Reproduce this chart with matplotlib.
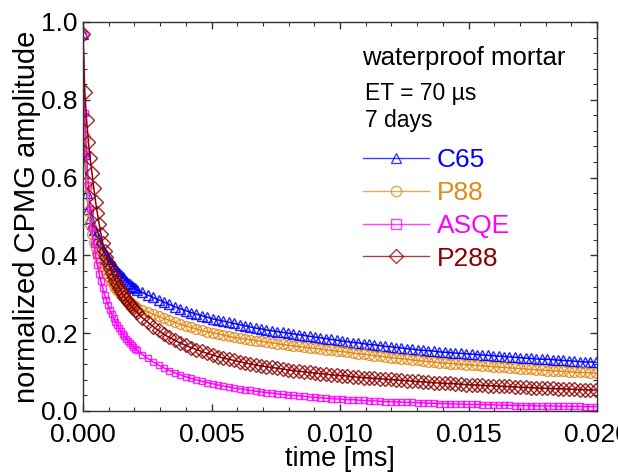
import numpy as np
import matplotlib
matplotlib.use("Agg")
from matplotlib import pyplot as plt
from matplotlib.lines import Line2D
from matplotlib.ticker import MultipleLocator, FormatStrFormatter

plt.rcParams['font.family'] = ['Liberation Sans', 'DejaVu Sans']

# echo train: every echo for the first 30, then every 3rd echo
echo_spacing = 0.00007
echo_idx = list(range(30)) + list(range(30, 286, 3))

# C65
c65_early = [0.970, 0.660, 0.560, 0.520, 0.497, 0.480, 0.466, 0.454, 0.443, 0.433,
             0.424, 0.415, 0.407, 0.399, 0.392, 0.385, 0.378, 0.372, 0.366, 0.360,
             0.354, 0.349, 0.344, 0.339, 0.334, 0.330, 0.326, 0.322, 0.318, 0.315]
c65_tail = [0.312, 0.305, 0.298, 0.292, 0.286, 0.280, 0.274, 0.268, 0.263, 0.258,
            0.253, 0.249, 0.245, 0.241, 0.237, 0.234, 0.231, 0.228, 0.225, 0.222,
            0.219, 0.216, 0.213, 0.211, 0.208, 0.206, 0.204, 0.202, 0.200, 0.198,
            0.196, 0.194, 0.192, 0.190, 0.188, 0.186, 0.184, 0.182, 0.180, 0.178,
            0.176, 0.175, 0.173, 0.171, 0.170, 0.168, 0.166, 0.165, 0.163, 0.162,
            0.160, 0.159, 0.157, 0.156, 0.155, 0.154, 0.152, 0.151, 0.150, 0.149,
            0.148, 0.147, 0.146, 0.145, 0.144, 0.143, 0.142, 0.141, 0.140, 0.139,
            0.138, 0.137, 0.136, 0.135, 0.134, 0.133, 0.133, 0.132, 0.131, 0.130,
            0.129, 0.128, 0.127, 0.126, 0.126, 0.125]

# P88
p88_early = [0.970, 0.705, 0.577, 0.515, 0.480, 0.455, 0.435, 0.419, 0.405, 0.393,
             0.382, 0.372, 0.363, 0.354, 0.346, 0.338, 0.331, 0.324, 0.317, 0.311,
             0.305, 0.300, 0.296, 0.292, 0.288, 0.284, 0.280, 0.276, 0.272, 0.269]
p88_tail = [0.266, 0.260, 0.255, 0.249, 0.243, 0.238, 0.233, 0.228, 0.223, 0.219,
            0.215, 0.211, 0.207, 0.204, 0.201, 0.198, 0.195, 0.192, 0.189, 0.187,
            0.185, 0.183, 0.181, 0.179, 0.177, 0.175, 0.173, 0.171, 0.169, 0.167,
            0.166, 0.164, 0.162, 0.161, 0.159, 0.157, 0.156, 0.154, 0.153, 0.151,
            0.149, 0.147, 0.146, 0.144, 0.142, 0.141, 0.139, 0.137, 0.136, 0.134,
            0.133, 0.131, 0.130, 0.128, 0.127, 0.126, 0.124, 0.123, 0.122, 0.121,
            0.120, 0.119, 0.118, 0.117, 0.116, 0.115, 0.114, 0.113, 0.112, 0.111,
            0.110, 0.109, 0.108, 0.107, 0.106, 0.105, 0.104, 0.103, 0.103, 0.102,
            0.101, 0.100, 0.099, 0.099, 0.098, 0.097]

# ASQE
asqe_early = [0.970, 0.765, 0.660, 0.580, 0.520, 0.470, 0.430, 0.400, 0.375, 0.353,
              0.333, 0.315, 0.299, 0.285, 0.272, 0.260, 0.249, 0.239, 0.230, 0.221,
              0.213, 0.206, 0.199, 0.192, 0.186, 0.180, 0.175, 0.170, 0.165, 0.160]
asqe_tail = [0.156, 0.145, 0.135, 0.126, 0.118, 0.111, 0.104, 0.098, 0.093, 0.088,
             0.084, 0.080, 0.076, 0.073, 0.070, 0.067, 0.064, 0.062, 0.059, 0.057,
             0.055, 0.053, 0.051, 0.049, 0.047, 0.046, 0.044, 0.043, 0.041, 0.040,
             0.039, 0.038, 0.036, 0.035, 0.034, 0.033, 0.032, 0.031, 0.030, 0.029,
             0.029, 0.028, 0.027, 0.026, 0.026, 0.025, 0.024, 0.024, 0.023, 0.023,
             0.022, 0.022, 0.021, 0.021, 0.020, 0.020, 0.019, 0.019, 0.018, 0.018,
             0.018, 0.017, 0.017, 0.017, 0.016, 0.016, 0.016, 0.015, 0.015, 0.015,
             0.014, 0.014, 0.014, 0.014, 0.013, 0.013, 0.013, 0.013, 0.012, 0.012,
             0.012, 0.012, 0.012, 0.011, 0.011, 0.011]

# P288
p288_early = [0.970, 0.820, 0.748, 0.692, 0.650, 0.611, 0.573, 0.538, 0.508, 0.480,
              0.455, 0.431, 0.412, 0.396, 0.381, 0.368, 0.356, 0.345, 0.335, 0.326,
              0.317, 0.309, 0.301, 0.294, 0.287, 0.281, 0.275, 0.269, 0.264, 0.259]
p288_tail = [0.254, 0.240, 0.228, 0.217, 0.207, 0.197, 0.189, 0.182, 0.175, 0.169,
             0.163, 0.158, 0.153, 0.148, 0.144, 0.140, 0.136, 0.133, 0.130, 0.127,
             0.124, 0.121, 0.118, 0.116, 0.114, 0.112, 0.110, 0.108, 0.106, 0.104,
             0.102, 0.101, 0.099, 0.098, 0.096, 0.095, 0.093, 0.092, 0.091, 0.090,
             0.088, 0.087, 0.086, 0.085, 0.084, 0.083, 0.082, 0.081, 0.080, 0.079,
             0.078, 0.077, 0.076, 0.075, 0.074, 0.073, 0.072, 0.071, 0.071, 0.070,
             0.069, 0.068, 0.067, 0.067, 0.066, 0.065, 0.065, 0.064, 0.063, 0.063,
             0.062, 0.061, 0.061, 0.060, 0.059, 0.059, 0.058, 0.058, 0.057, 0.057,
             0.056, 0.056, 0.055, 0.055, 0.054, 0.054]

labels = ["C65", "P88", "ASQE", "P288"]
colors = ["#0000ff", "#e08a1a", "#ff00ff", "#8b0000"]
markers = ["^", "o", "s", "D"]
msizes = [7.5, 7.0, 5.0, 7.0]

t = np.array(echo_idx) * echo_spacing
series = [c65_early + c65_tail, p88_early + p88_tail,
          asqe_early + asqe_tail, p288_early + p288_tail]

fig = plt.figure(figsize=(6.18, 4.73), dpi=100)
ax = fig.add_axes([83 / 618, 1 - 411 / 473, 514 / 618, 389 / 473])

handles = []
for y, lab, c, m, ms in zip(series, labels, colors, markers, msizes):
    ax.plot(t, y, linestyle="none", marker=m, markersize=ms,
            markerfacecolor="none", markeredgecolor=c, markeredgewidth=1.0,
            alpha=0.85)
    ax.plot(t, y, color=c, linewidth=1.1)
    handles.append(Line2D([], [], color=c, linewidth=1.0, alpha=0.75, marker=m,
                          markersize=7.5 if m != "D" else 7.0,
                          markerfacecolor="none", markeredgecolor=c,
                          markeredgewidth=1.0, label=lab))

ax.set_xlim(0, 0.02)
ax.set_ylim(0, 1.0)
ax.xaxis.set_major_locator(MultipleLocator(0.005))
ax.xaxis.set_minor_locator(MultipleLocator(0.001))
ax.yaxis.set_major_locator(MultipleLocator(0.2))
ax.yaxis.set_minor_locator(MultipleLocator(0.04))
ax.xaxis.set_major_formatter(FormatStrFormatter("%.3f"))
ax.yaxis.set_major_formatter(FormatStrFormatter("%.1f"))
ax.tick_params(which="both", direction="in", top=True, right=True,
               labelsize=19, colors="#333333", labelcolor="black")
ax.tick_params(which="major", length=5, width=1)
ax.tick_params(which="minor", length=3, width=0.8)
ax.tick_params(axis="x", which="major", pad=9)
ax.tick_params(axis="y", which="major", pad=4)
for sp in ax.spines.values():
    sp.set_color("#333333")
    sp.set_linewidth(1.0)

ax.set_xlabel("time [ms]", fontsize=19.5, labelpad=-1)
ax.set_ylabel("normalized CPMG amplitude", fontsize=21, labelpad=0)

ax.text(0.543, 0.907, "waterproof mortar", transform=ax.transAxes,
        fontsize=18.5, va="center", ha="left")
ax.text(0.549, 0.817, "ET = 70 \u00b5s", transform=ax.transAxes,
        fontsize=16.5, va="center", ha="left")
ax.text(0.549, 0.748, "7 days", transform=ax.transAxes,
        fontsize=16.5, va="center", ha="left")

ax.legend(handles=handles, loc="upper left", bbox_to_anchor=(0.545, 0.675),
          frameon=False, fontsize=19, labelcolor="linecolor", numpoints=1,
          handlelength=2.5, handletextpad=0.3, labelspacing=0.33,
          borderpad=0, borderaxespad=0)

fig.savefig("out.png", dpi=100)
